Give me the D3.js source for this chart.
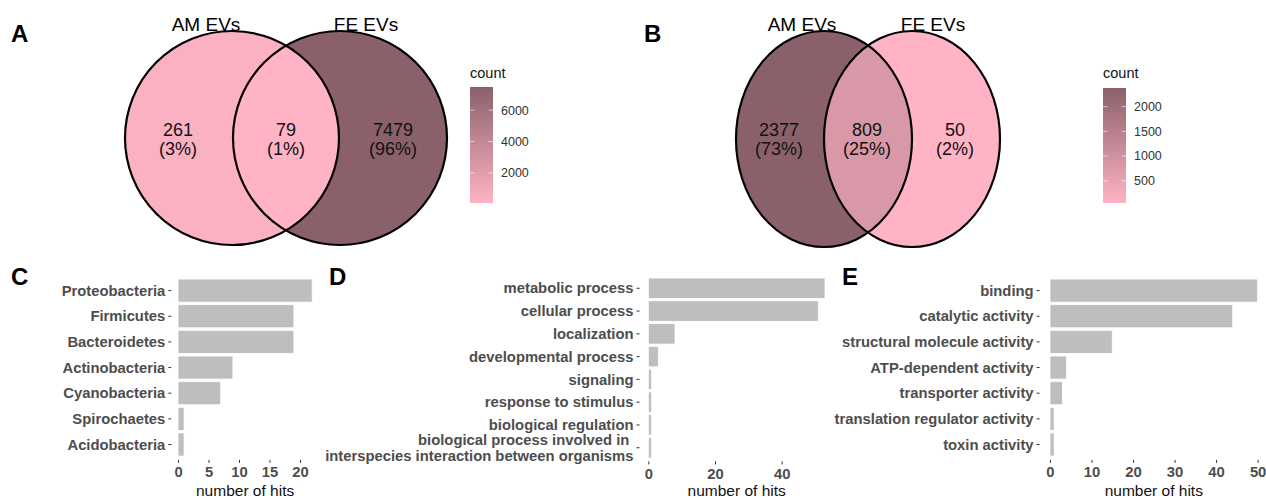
<!DOCTYPE html>
<html>
<head>
<meta charset="utf-8">
<script src="https://cdn.jsdelivr.net/npm/d3@7"></script>
<style>
  html, body { margin: 0; padding: 0; background: #fff; }
  svg { display: block; font-family: "Liberation Sans", Arial, Helvetica, sans-serif; }
</style>
</head>
<body>
<svg id="fig" width="1266" height="498"></svg>
<script>
// ---- Venn data ----
const setNamesA = ["AM EVs", "FE EVs"];
const regionCountsA = [261, 79, 7479];      // AM only, shared, FE only
const legendTicksA = [2000, 4000, 6000];

const setNamesB = ["AM EVs", "FE EVs"];
const regionCountsB = [2377, 809, 50];      // AM only, shared, FE only
const legendTicksB = [500, 1000, 1500, 2000];

// ---- Bar chart data ----
const phylumNames = ["Proteobacteria", "Firmicutes", "Bacteroidetes", "Actinobacteria",
                     "Cyanobacteria", "Spirochaetes", "Acidobacteria"];
const phylumHits = [22, 19, 19, 9, 7, 1, 1];
const phylumTicks = [0, 5, 10, 15, 20];

const processNames = ["metabolic process", "cellular process", "localization",
                      "developmental process", "signaling", "response to stimulus",
                      "biological regulation",
                      "biological process involved in \ninterspecies interaction between organisms"];
const processHits = [53, 51, 8, 3, 1, 1, 1, 1];
const processTicks = [0, 20, 40];

const functionNames = ["binding", "catalytic activity", "structural molecule activity",
                       "ATP-dependent activity", "transporter activity",
                       "translation regulator activity", "toxin activity"];
const functionHits = [50, 44, 15, 4, 3, 1, 1];
const functionTicks = [0, 10, 20, 30, 40, 50];

const LOW = "#FFB3C4", HIGH = "#8A616A";

const svg = d3.select("#fig");
svg.append("rect").attr("width", 1266).attr("height", 498).attr("fill", "#fff");
const defs = svg.append("defs");

function panelLetter(letter, x, y) {
  svg.append("text").attr("x", x).attr("y", y)
    .attr("font-size", 24).attr("font-weight", "bold").attr("fill", "#000")
    .text(letter);
}

// Two-set Venn diagram with a continuous count legend
function drawVenn(cfg) {
  const { id, names, counts, cL, cR, rx, ry, nameY, nameX, labelX, labelY, legend } = cfg;
  const total = d3.sum(counts);
  const color = d3.scaleLinear()
    .domain([d3.min(counts), d3.max(counts)])
    .range([LOW, HIGH]);

  const g = svg.append("g");
  defs.append("clipPath").attr("id", "clip-" + id)
    .append("ellipse").attr("cx", cL).attr("cy", cfg.cy).attr("rx", rx).attr("ry", ry);

  // left-only and right-only regions
  g.append("ellipse").attr("cx", cL).attr("cy", cfg.cy).attr("rx", rx).attr("ry", ry)
    .attr("fill", color(counts[0]));
  g.append("ellipse").attr("cx", cR).attr("cy", cfg.cy).attr("rx", rx).attr("ry", ry)
    .attr("fill", color(counts[2]));
  // shared region
  g.append("ellipse").attr("cx", cR).attr("cy", cfg.cy).attr("rx", rx).attr("ry", ry)
    .attr("clip-path", `url(#clip-${id})`)
    .attr("fill", color(counts[1]));
  // outlines
  [cL, cR].forEach(cx => {
    g.append("ellipse").attr("cx", cx).attr("cy", cfg.cy).attr("rx", rx).attr("ry", ry)
      .attr("fill", "none").attr("stroke", "#000").attr("stroke-width", 2.2);
  });

  // set names
  names.forEach((n, i) => {
    g.append("text").attr("x", nameX[i]).attr("y", nameY)
      .attr("text-anchor", "middle").attr("font-size", 19).attr("fill", "#000").text(n);
  });

  // region counts with percentages
  counts.forEach((c, i) => {
    const t = g.append("text").attr("text-anchor", "middle")
      .attr("font-size", 18).attr("fill", "#111");
    t.append("tspan").attr("x", labelX[i]).attr("y", labelY).text(c);
    t.append("tspan").attr("x", labelX[i]).attr("y", labelY + 19)
      .text(`(${Math.round(c / total * 100)}%)`);
  });

  // colour bar legend
  const L = legend;
  const grad = defs.append("linearGradient").attr("id", "grad-" + id)
    .attr("x1", 0).attr("y1", 1).attr("x2", 0).attr("y2", 0);
  grad.append("stop").attr("offset", 0).attr("stop-color", LOW);
  grad.append("stop").attr("offset", 1).attr("stop-color", HIGH);

  const ly = d3.scaleLinear().domain(color.domain()).range([L.bottom, L.top]);
  svg.append("text").attr("x", L.x).attr("y", L.titleY)
    .attr("font-size", 14.5).attr("fill", "#111").text("count");
  svg.append("rect").attr("x", L.x).attr("y", L.top).attr("width", L.w)
    .attr("height", L.bottom - L.top).attr("fill", `url(#grad-${id})`);
  L.ticks.forEach(t => {
    const y = ly(t);
    svg.append("line").attr("x1", L.x).attr("x2", L.x + 4.5).attr("y1", y).attr("y2", y)
      .attr("stroke", "#fff").attr("stroke-opacity", 0.6).attr("stroke-width", 1);
    svg.append("line").attr("x1", L.x + L.w - 4.5).attr("x2", L.x + L.w).attr("y1", y).attr("y2", y)
      .attr("stroke", "#fff").attr("stroke-opacity", 0.6).attr("stroke-width", 1);
    svg.append("text").attr("x", L.x + L.w + 8).attr("y", y).attr("dy", "0.35em")
      .attr("font-size", 12.5).attr("fill", "#333").text(t);
  });
}

// Horizontal bar chart in ggplot style
function drawBars(cfg) {
  const { names, values, ticks, xRange, yRange } = cfg;
  const maxV = d3.max(values);
  const x = d3.scaleLinear().domain([-0.05 * maxV, 1.05 * maxV]).range(xRange);
  const y = d3.scaleBand().domain(names).range(yRange).paddingInner(0.1).paddingOuter(0.15);

  const g = svg.append("g");
  g.selectAll("rect.bar").data(names).join("rect")
    .attr("class", "bar")
    .attr("x", x(0))
    .attr("y", d => y(d))
    .attr("width", (d, i) => x(values[i]) - x(0))
    .attr("height", y.bandwidth())
    .attr("fill", "#BEBEBE")
    .attr("stroke", "#fff").attr("stroke-width", 0.8);

  // y axis
  const ya = g.append("g").attr("transform", `translate(${xRange[0]},0)`)
    .call(d3.axisLeft(y).tickSize(3).tickPadding(3).tickFormat(""));
  ya.select(".domain").remove();
  ya.selectAll(".tick line").attr("stroke", "#333");
  ya.selectAll(".tick").each(function (d) {
    const lines = d.split("\n");
    const t = d3.select(this).append("text")
      .attr("x", -6).attr("text-anchor", "end")
      .attr("font-size", 14.8).attr("font-weight", "bold").attr("fill", "#4D4D4D")
      .style("white-space", "pre");
    lines.forEach((ln, k) => {
      t.append("tspan").attr("x", -6)
        .attr("y", (k - (lines.length - 1) / 2) * 16)
        .attr("dy", "0.35em").text(ln);
    });
  });

  // x axis
  const xa = g.append("g").attr("transform", `translate(0,${yRange[1]})`)
    .call(d3.axisBottom(x).tickValues(ticks).tickSize(3).tickPadding(4));
  xa.select(".domain").remove();
  xa.selectAll(".tick line").attr("stroke", "#333");
  xa.selectAll(".tick text").attr("font-size", 14.8).attr("font-weight", "bold")
    .attr("fill", "#4D4D4D");
  xa.attr("font-family", null);

  g.append("text").attr("x", (xRange[0] + xRange[1]) / 2).attr("y", 496)
    .attr("text-anchor", "middle").attr("font-size", 15.5).attr("fill", "#111")
    .text("number of hits");
}

// ---- Panels ----
panelLetter("A", 11, 42);
drawVenn({
  id: "a", names: setNamesA, counts: regionCountsA,
  cL: 232, cR: 340, cy: 138, rx: 107, ry: 107,
  nameY: 31, nameX: [206, 366],
  labelX: [178, 286, 393], labelY: 136,
  legend: { x: 470, top: 87, bottom: 203, w: 23, titleY: 78, ticks: legendTicksA }
});

panelLetter("B", 644, 42);
drawVenn({
  id: "b", names: setNamesB, counts: regionCountsB,
  cL: 824, cR: 912, cy: 139, rx: 88, ry: 108,
  nameY: 31, nameX: [802, 933],
  labelX: [779, 867, 955], labelY: 136,
  legend: { x: 1103, top: 88, bottom: 203, w: 23, titleY: 78, ticks: legendTicksB }
});

panelLetter("C", 11, 285);
drawBars({ names: phylumNames, values: phylumHits, ticks: phylumTicks,
  xRange: [171.3, 318.9], yRange: [275.2, 459.9] });

panelLetter("D", 329, 285);
drawBars({ names: processNames, values: processHits, ticks: processTicks,
  xRange: [639.5, 833.8], yRange: [274.6, 461.4] });

panelLetter("E", 842, 285);
drawBars({ names: functionNames, values: functionHits, ticks: functionTicks,
  xRange: [1039.6, 1268], yRange: [275.2, 459.9] });
</script>
</body>
</html>
